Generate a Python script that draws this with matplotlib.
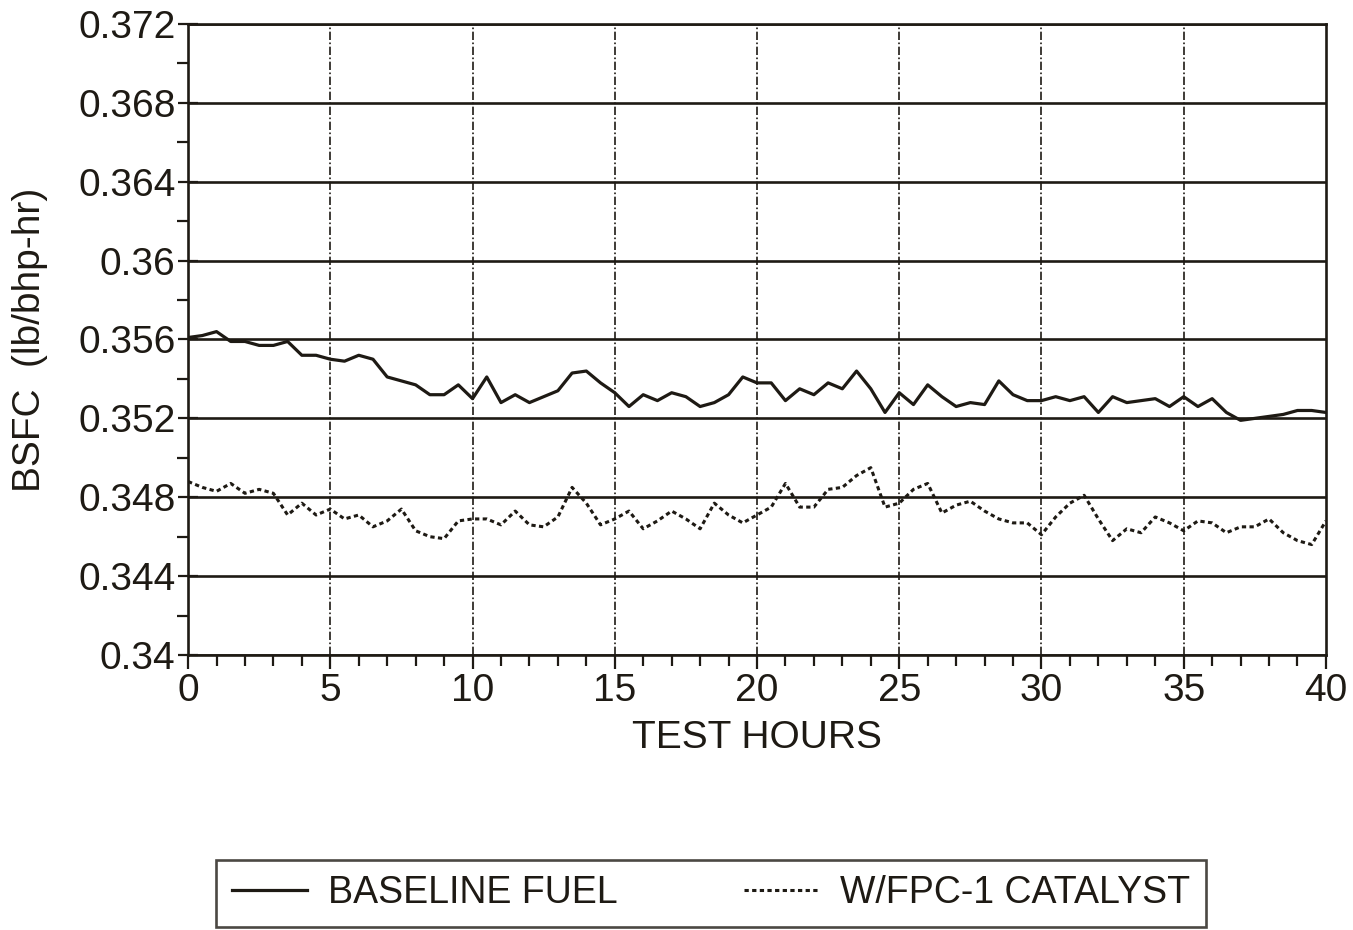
import numpy as np
import matplotlib
matplotlib.use("Agg")
import matplotlib.pyplot as plt
from matplotlib.ticker import MultipleLocator

# Heures d'essai (relevé toutes les demi-heures)
hours = np.arange(0, 40.5, 0.5)

# BSFC (lb/bhp-hr)
baseline_fuel = [
    0.3561, 0.3562, 0.3564, 0.3559, 0.3559, 0.3557, 0.3557, 0.3559, 0.3552, 0.3552,
    0.3550, 0.3549, 0.3552, 0.3550, 0.3541, 0.3539, 0.3537, 0.3532, 0.3532, 0.3537,
    0.3530, 0.3541, 0.3528, 0.3532, 0.3528, 0.3531, 0.3534, 0.3543, 0.3544, 0.3538,
    0.3533, 0.3526, 0.3532, 0.3529, 0.3533, 0.3531, 0.3526, 0.3528, 0.3532, 0.3541,
    0.3538, 0.3538, 0.3529, 0.3535, 0.3532, 0.3538, 0.3535, 0.3544, 0.3535, 0.3523,
    0.3533, 0.3527, 0.3537, 0.3531, 0.3526, 0.3528, 0.3527, 0.3539, 0.3532, 0.3529,
    0.3529, 0.3531, 0.3529, 0.3531, 0.3523, 0.3531, 0.3528, 0.3529, 0.3530, 0.3526,
    0.3531, 0.3526, 0.3530, 0.3523, 0.3519, 0.3520, 0.3521, 0.3522, 0.3524, 0.3524,
    0.3523,
]
catalyst_fuel = [
    0.3488, 0.3485, 0.3483, 0.3487, 0.3482, 0.3484, 0.3482, 0.3471, 0.3477, 0.3471,
    0.3474, 0.3469, 0.3471, 0.3465, 0.3468, 0.3474, 0.3463, 0.3460, 0.3459, 0.3468,
    0.3469, 0.3469, 0.3466, 0.3473, 0.3466, 0.3465, 0.3470, 0.3485, 0.3477, 0.3466,
    0.3469, 0.3473, 0.3464, 0.3468, 0.3473, 0.3469, 0.3464, 0.3477, 0.3471, 0.3467,
    0.3471, 0.3475, 0.3487, 0.3475, 0.3475, 0.3484, 0.3485, 0.3491, 0.3495, 0.3475,
    0.3477, 0.3484, 0.3487, 0.3472, 0.3476, 0.3478, 0.3473, 0.3469, 0.3467, 0.3467,
    0.3461, 0.3470, 0.3477, 0.3481, 0.3469, 0.3458, 0.3464, 0.3462, 0.3470, 0.3467,
    0.3463, 0.3468, 0.3467, 0.3462, 0.3465, 0.3465, 0.3469, 0.3462, 0.3458, 0.3456,
    0.3468,
]

y_ticks = [0.34, 0.344, 0.348, 0.352, 0.356, 0.36, 0.364, 0.368, 0.372]
y_tick_labels = ["0.34", "0.344", "0.348", "0.352", "0.356", "0.36", "0.364", "0.368", "0.372"]
x_ticks = [0, 5, 10, 15, 20, 25, 30, 35, 40]

INK = "#1e1a14"
plt.rcParams["font.family"] = ["Liberation Sans", "DejaVu Sans"]
plt.rcParams["text.color"] = INK

fig = plt.figure(figsize=(13.53, 9.30), dpi=100)
ax = fig.add_axes([0.139, 0.2957, 0.841, 0.6785])

ax.plot(hours, baseline_fuel, color=INK, lw=2.3, label="BASELINE FUEL")
ax.plot(hours, catalyst_fuel, color=INK, lw=2.2, linestyle=(0, (1.4, 1.1)),
        label="W/FPC-1 CATALYST")

ax.set_xlim(0, 40)
ax.set_ylim(0.34, 0.372)
ax.set_yticks(y_ticks)
ax.set_yticklabels(y_tick_labels)
ax.set_xticks(x_ticks)
ax.xaxis.set_minor_locator(MultipleLocator(1))
ax.yaxis.set_minor_locator(MultipleLocator(0.002))

# grille : horizontales pleines, verticales en tiret-point
for yv in y_ticks:
    ax.axhline(yv, color=INK, lw=1.9, zorder=1)
for xv in x_ticks[1:-1]:
    ax.axvline(xv, color=INK, lw=1.2, linestyle=(0, (5, 1.5, 1, 1.5)), zorder=1)

for side in ax.spines.values():
    side.set_color(INK)
    side.set_linewidth(1.9)

ax.tick_params(axis="y", which="major", direction="inout", length=14, width=1.6,
               colors=INK, labelsize=28, pad=2)
ax.tick_params(axis="y", which="minor", direction="out", length=8, width=1.6, colors=INK)
ax.tick_params(axis="x", which="major", direction="out", length=10, width=1.6,
               colors=INK, labelsize=28, pad=3)
ax.tick_params(axis="x", which="minor", direction="out", length=8, width=1.6, colors=INK)

ax.set_xlabel("TEST HOURS", fontsize=28, color=INK, labelpad=8)
ax.set_ylabel("BSFC  (lb/bhp-hr)", fontsize=28, color=INK, labelpad=22)

leg = fig.legend(loc="lower left", bbox_to_anchor=(0.160, 0.003, 0.731, 0.078),
                 mode="expand", ncol=2, frameon=True, fancybox=False,
                 prop={"size": 27}, handlelength=2.0, handletextpad=0.55,
                 borderpad=0.42, borderaxespad=0)
leg.get_frame().set_edgecolor(INK)
leg.get_frame().set_linewidth(1.9)
for t in leg.get_texts():
    t.set_color(INK)

fig.savefig("out.png", dpi=100)
